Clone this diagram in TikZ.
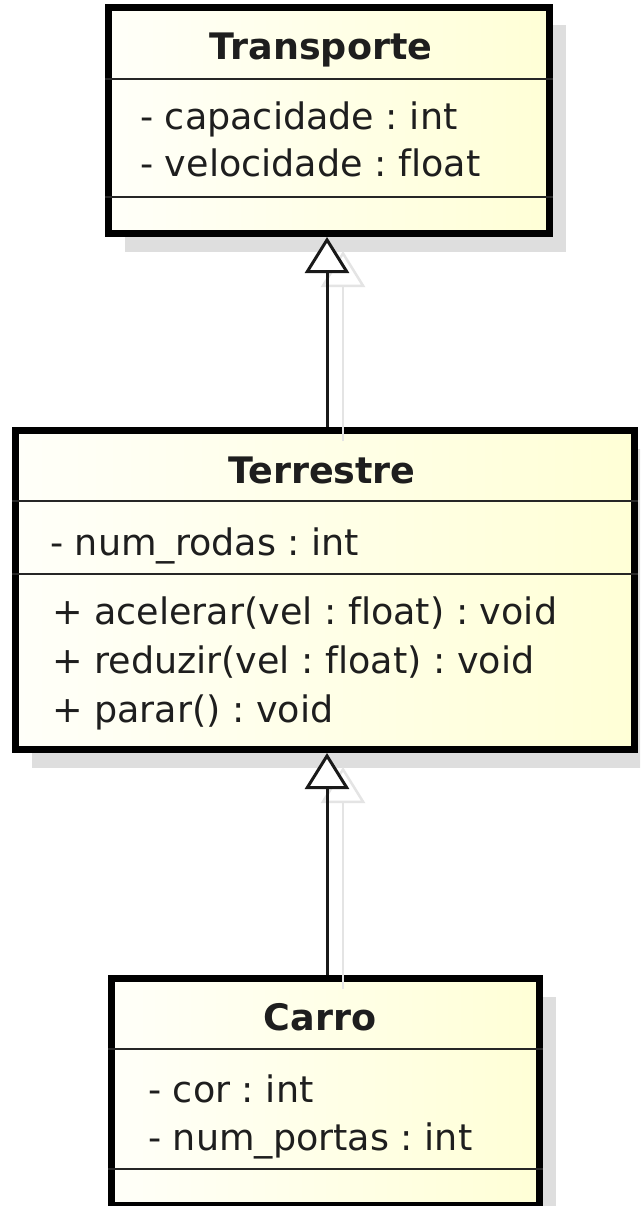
\documentclass[tikz,border=0pt]{standalone}
\usepackage{fontspec}
\setmainfont{DejaVu Sans}[Ligatures={NoCommon}]
\usetikzlibrary{shadows,arrows.meta}
\frenchspacing

\definecolor{boxleft}{RGB}{255,255,249}
\definecolor{boxright}{RGB}{255,255,214}
\definecolor{ink}{RGB}{30,30,30}
\definecolor{boxshadow}{RGB}{222,222,222}
\definecolor{linkshade}{RGB}{228,228,228}

\begin{document}
\begin{tikzpicture}[x=1pt,y=-1pt,
  classbox/.style={draw=black, line width=7pt, left color=boxleft, right color=boxright,
    inner sep=0pt, outer sep=3.5pt,
    drop shadow={shadow xshift=16pt, shadow yshift=-18pt, fill=boxshadow, opacity=1}},
  classname/.style={font=\fontsize{36.5}{40}\selectfont\bfseries, text=ink, anchor=base, inner sep=0pt},
  member/.style={font=\fontsize{36.5}{40}\selectfont, text=ink, anchor=base west, inner sep=0pt},
  compartment/.style={line width=2.5pt, draw=black!85},
  generalization/.style={line width=3pt, draw=black!90,
    -{Triangle[length=36pt, width=44pt, line width=3pt, fill=white]}},
  generalizationshade/.style={line width=2.5pt, draw=linkshade,
    -{Triangle[open, length=36pt, width=44pt, line width=2.5pt]},
    transform canvas={xshift=16pt, yshift=-14pt}},
  ]
  \path[use as bounding box] (0,0) rectangle (640,1206);
  \clip (0,0) rectangle (640,1206);
  \fill[white] (0,0) rectangle (640,1206);

  % class boxes
  \node[classbox, minimum width=441pt, minimum height=226pt] (transporte) at (329,120.5) {};
  \node[classbox, minimum width=619pt, minimum height=319pt] (terrestre) at (325,590) {};
  \node[classbox, minimum width=428pt, minimum height=227pt] (carro) at (325.5,1092) {};

  % compartment separators
  \draw[compartment] (transporte.west |- 0,79) -- (transporte.east |- 0,79);
  \draw[compartment] (transporte.west |- 0,197) -- (transporte.east |- 0,197);
  \draw[compartment] (terrestre.west |- 0,501) -- (terrestre.east |- 0,501);
  \draw[compartment] (terrestre.west |- 0,574) -- (terrestre.east |- 0,574);
  \draw[compartment] (carro.west |- 0,1049) -- (carro.east |- 0,1049);
  \draw[compartment] (carro.west |- 0,1169) -- (carro.east |- 0,1169);

  % Transporte
  \node[classname] (transporteName) at (321,60) {Transporte};
  \node[member] (transporteCap) at (140,130) {- capacidade : int};
  \node[member] (transporteVel) at (140,177) {- velocidade : float};

  % Terrestre
  \node[classname] (terrestreName) at (322,483) {Terrestre};
  \node[member] (terrestreRodas) at (50,555) {- num\_rodas : int};
  \node[member] (terrestreAcel) at (52,624) {+ acelerar(vel : float) : void};
  \node[member] (terrestreRed) at (52,673) {+ reduzir(vel : float) : void};
  \node[member] (terrestrePar) at (52,722) {+ parar() : void};

  % Carro
  \node[classname] (carroName) at (320,1030) {Carro};
  \node[member] (carroCor) at (148,1102) {- cor : int};
  \node[member] (carroPortas) at (148,1150) {- num\_portas : int};

  % generalization links
  \coordinate (axis) at (327,0);
  \draw[generalizationshade] (terrestre.north -| axis) -- (transporte.south -| axis);
  \draw[generalizationshade] (carro.north -| axis) -- (terrestre.south -| axis);
  \draw[generalization] (terrestre.north -| axis) -- (transporte.south -| axis);
  \draw[generalization] (carro.north -| axis) -- (terrestre.south -| axis);
\end{tikzpicture}
\end{document}
